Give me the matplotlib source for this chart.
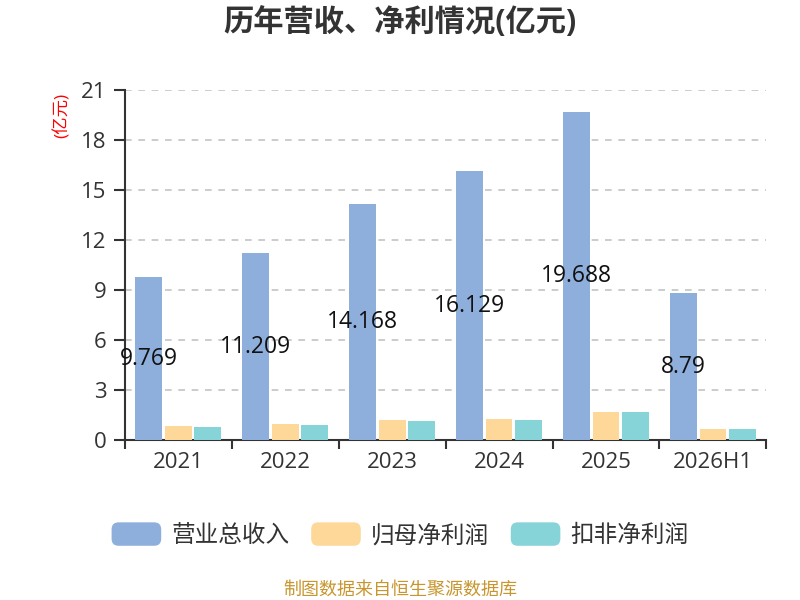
import matplotlib
matplotlib.use("Agg")
import numpy as np
import matplotlib.pyplot as plt
from matplotlib.patches import FancyBboxPatch, Rectangle
from matplotlib.legend_handler import HandlerPatch

plt.rcParams["font.family"] = ["Open Sans", "Noto Sans CJK SC", "DejaVu Sans"]

categories = ["2021", "2022", "2023", "2024", "2025", "2026H1"]
revenue = [9.769, 11.209, 14.168, 16.129, 19.688, 8.79]
net_profit = [0.86, 0.95, 1.20, 1.24, 1.70, 0.64]
deducted_profit = [0.80, 0.88, 1.16, 1.20, 1.68, 0.63]
series_names = ["营业总收入", "归母净利润", "扣非净利润"]
colors = ["#8eaedb", "#fed898", "#86d4d8"]
yticks = [0, 3, 6, 9, 12, 15, 18, 21]


class RoundHandler(HandlerPatch):
    def create_artists(self, legend, orig_handle, xdescent, ydescent,
                       width, height, fontsize, trans):
        p = FancyBboxPatch((-xdescent, -ydescent), width, height,
                           boxstyle="round,pad=0,rounding_size=5",
                           facecolor=orig_handle.get_facecolor(),
                           edgecolor="none", transform=trans)
        return [p]


fig = plt.figure(figsize=(8, 6), dpi=100)
ax = fig.add_axes([0.156, 0.2667, 0.802, 0.5833])

x = np.arange(len(categories))
w = 0.25
step = 0.276
bars = []
for i, (vals, name, c) in enumerate(zip([revenue, net_profit, deducted_profit], series_names, colors)):
    b = ax.bar(x + (i - 1) * step, vals, width=w, color=c, label=name, zorder=3)
    bars.append(b)

for xi, v in zip(x, revenue):
    ax.text(xi - step, v / 2, f"{v:g}", ha="center", va="center",
            fontsize=16.5, color="#111111", zorder=4)

ax.set_xlim(-0.5, len(categories) - 0.5)
ax.set_ylim(0, 21)
ax.set_yticks(yticks)
ax.set_xticks(x)
ax.set_xticklabels(categories)
ax.set_xticks(np.arange(len(categories) + 1) - 0.5, minor=True)
ax.tick_params(axis="x", which="major", length=0, pad=9, labelsize=16, labelcolor="#333333")
ax.tick_params(axis="x", which="minor", length=6.5, width=1.5, color="#333333")
ax.tick_params(axis="y", length=8, width=1.5, pad=5, color="#333333", labelsize=16, labelcolor="#333333")

ax.yaxis.grid(True, linestyle=(0, (4, 4)), color="#c4c4c4", linewidth=1.2, zorder=0)
for s in ["top", "right"]:
    ax.spines[s].set_visible(False)
for s in ["left", "bottom"]:
    ax.spines[s].set_color("#333333")
    ax.spines[s].set_linewidth(1.5)

fig.text(0.0775, 0.808, "(亿元)", rotation=90, color="red", fontsize=12.5, ha="center", va="center")
fig.text(0.5, 0.962, "历年营收、净利情况(亿元)", ha="center", va="center",
         fontsize=21.8, fontweight="bold", color="#333333")

leg = fig.legend(handles=[b[0] for b in bars], labels=series_names,
                 loc="center", bbox_to_anchor=(0.5, 0.108), ncol=3, frameon=False,
                 fontsize=17, handlelength=2.1, handleheight=1.15, handletextpad=0.42,
                 columnspacing=0.93, labelcolor="#333333",
                 handler_map={Rectangle: RoundHandler()})

fig.text(0.5, 0.017, "制图数据来自恒生聚源数据库", ha="center", va="center",
         fontsize=13, color="#c8962e")

fig.savefig("out.png", dpi=100)
